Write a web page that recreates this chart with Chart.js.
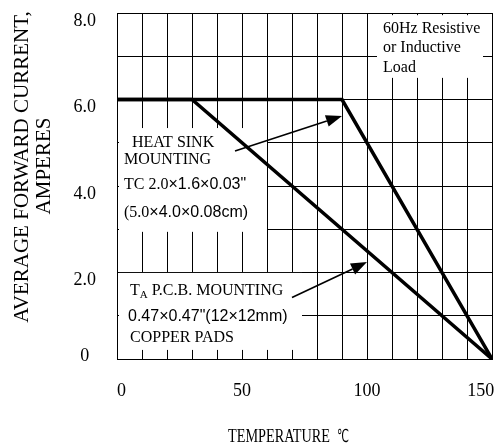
<!DOCTYPE html>
<html><head><meta charset="utf-8">
<script src="https://cdn.jsdelivr.net/npm/chart.js@4.4.0/dist/chart.umd.min.js"></script>
<style>html,body{margin:0;padding:0;background:#fff;}#wrap{width:501px;height:444px;}</style>
</head><body><div id="wrap"><canvas id="c" width="501" height="444"></canvas></div>
<script>
// ---- data ----
const heatSinkTemp = [0, 90, 150];
const heatSinkCurrent = [6.0, 6.0, 0];
const pcbTemp = [0, 30, 150];
const pcbCurrent = [6.0, 6.0, 0];
const xTickLabels = [0, 50, 100, 150];
const yTickLabels = [0, 2, 4, 6, 8];
const xAxisTitle = ['TEMPERATURE', '\u2103'];
const yAxisTitle = ['AVERAGE FORWARD CURRENT,', 'AMPERES'];
const loadNote = ['60Hz Resistive', 'or Inductive', 'Load'];
const heatSinkNote = [
  [['HEAT SINK', 'serif']],
  [['MOUNTING', 'serif']],
  [['TC 2.0', 'serif'], ['\u00d71.6\u00d70.03"', 'sans']],
  [['(5.0', 'serif'], ['\u00d74.0\u00d70.08cm)', 'sans']]
];
const pcbNote = [
  [['T', 'serif'], ['A', 'sub'], [' P.C.B. MOUNTING', 'serif']],
  [['0.47\u00d70.47"(12\u00d712mm)', 'sans']],
  [['COPPER PADS', 'serif']]
];

const SERIF = '"Liberation Serif", "Times New Roman", serif';
const SANS = '"Liberation Sans", Arial, sans-serif';
const fonts = { serif: '16px ' + SERIF, sans: '16px ' + SANS, sub: '11px ' + SERIF };

function toPx(chart, x, y) {
  return [chart.scales.x.getPixelForValue(x), chart.scales.y.getPixelForValue(y)];
}

const notesPlugin = {
  id: 'notes',
  beforeDatasetsDraw(chart, args, opts) {
    const ctx = chart.ctx;
    ctx.save();
    ctx.fillStyle = '#fff';
    opts.boxes.forEach(b => {
      const [x1, y1] = toPx(chart, b.x1, b.y1);
      const [x2, y2] = toPx(chart, b.x2, b.y2);
      ctx.fillRect(x1, y1, x2 - x1, y2 - y1);
    });
    ctx.restore();
  },
  afterDatasetsDraw(chart, args, opts) {
    const ctx = chart.ctx;
    ctx.save();
    ctx.fillStyle = '#000';
    ctx.textBaseline = 'alphabetic';
    ctx.textAlign = 'left';
    opts.texts.forEach(t => {
      const [bx, by] = toPx(chart, t.bx, t.by);
      t.lines.forEach((line, i) => {
        let x = bx + t.offsets[i][0];
        const y = by + t.offsets[i][1];
        const segs = Array.isArray(line) ? line : [[line, 'serif']];
        segs.forEach(([txt, f]) => {
          ctx.font = fonts[f];
          ctx.fillText(txt, x, f === 'sub' ? y + 3 : y);
          x += ctx.measureText(txt).width;
        });
      });
    });
    ctx.strokeStyle = '#000';
    ctx.lineWidth = 1.6;
    opts.arrows.forEach(a => {
      const [x1, y1] = toPx(chart, a.from[0], a.from[1]);
      const [x2, y2] = toPx(chart, a.to[0], a.to[1]);
      const ang = Math.atan2(y2 - y1, x2 - x1);
      const L = 16, W = 6;
      const bx = x2 - L * Math.cos(ang), by = y2 - L * Math.sin(ang);
      ctx.beginPath();
      ctx.moveTo(x1, y1);
      ctx.lineTo(bx, by);
      ctx.stroke();
      ctx.beginPath();
      ctx.moveTo(x2, y2);
      ctx.lineTo(bx + W * Math.sin(ang), by - W * Math.cos(ang));
      ctx.lineTo(bx - W * Math.sin(ang), by + W * Math.cos(ang));
      ctx.closePath();
      ctx.fill();
    });
    ctx.restore();
  },
  afterDraw(chart) {
    const ctx = chart.ctx;
    ctx.save();
    ctx.fillStyle = '#000';
    ctx.font = '21px ' + SERIF;
    ctx.textAlign = 'center';
    ctx.textBaseline = 'alphabetic';
    [[28, 167], [49.5, 166]].forEach((p, i) => {
      ctx.save();
      ctx.translate(p[0], p[1]);
      ctx.rotate(-Math.PI / 2);
      ctx.fillText(yAxisTitle[i], 0, 0);
      ctx.restore();
    });
    ctx.textAlign = 'left';
    ctx.font = '19px ' + SERIF;
    const w = ctx.measureText(xAxisTitle[0]).width;
    ctx.save();
    ctx.translate(228, 442);
    ctx.scale(102 / w, 1);
    ctx.fillText(xAxisTitle[0], 0, 0);
    ctx.restore();
    ctx.font = '18px "DejaVu Sans", sans-serif';
    const w2 = ctx.measureText(xAxisTitle[1]).width;
    ctx.save();
    ctx.translate(337, 442);
    ctx.scale(12 / w2, 1);
    ctx.fillText(xAxisTitle[1], 0, 0);
    ctx.restore();
    ctx.restore();
  }
};

const lineStyle = { borderColor: '#000', borderWidth: 3.5, pointRadius: 0, tension: 0, fill: false };

function xLabel(v) {
  if (!xTickLabels.includes(v)) return '';
  // nudge end labels like the original print (0 slightly right, 150 kept inside the page)
  if (v === 0) return '  0';
  if (v === 150) return '150     ';
  return String(v);
}

new Chart(document.getElementById('c'), {
  type: 'line',
  data: {
    datasets: [
      Object.assign({ label: 'Heat sink mounting', data: heatSinkTemp.map((t, i) => ({ x: t, y: heatSinkCurrent[i] })) }, lineStyle),
      Object.assign({ label: 'P.C.B. mounting', data: pcbTemp.map((t, i) => ({ x: t, y: pcbCurrent[i] })) }, lineStyle)
    ]
  },
  options: {
    responsive: false,
    animation: false,
    devicePixelRatio: 1,
    layout: { padding: { top: 13, right: 9, left: 0, bottom: 0 } },
    plugins: {
      legend: { display: false },
      tooltip: { enabled: false },
      notes: {
        boxes: [
          { x1: 104, x2: 146.4, y1: 7.95, y2: 6.5 },
          { x1: 0.8, x2: 60, y1: 5.34, y2: 2.94 },
          { x1: 0.8, x2: 74, y1: 1.99, y2: 0.21 }
        ],
        texts: [
          { bx: 104, by: 7.95, lines: loadNote, offsets: [[6, 18], [6, 37], [6, 57]] },
          { bx: 0.8, by: 5.34, lines: heatSinkNote, offsets: [[13, 19], [5, 36], [5, 61], [5, 89]] },
          { bx: 0.8, by: 1.99, lines: pcbNote, offsets: [[11, 22], [9, 48], [11, 69]] }
        ],
        arrows: [
          { from: [47.2, 4.81], to: [90, 5.62] },
          { from: [70, 1.42], to: [100, 2.24] }
        ]
      }
    },
    scales: {
      x: {
        type: 'linear', min: 0, max: 150,
        afterFit(s) { s.height = 85; s.paddingLeft = 0; s.paddingRight = 0; },
        grid: { color: '#000', lineWidth: 1, drawTicks: false },
        border: { color: '#000', width: 1 },
        ticks: {
          stepSize: 10, padding: 21, color: '#000', autoSkip: false, maxRotation: 0, minRotation: 0,
          font: { family: SERIF, size: 18 },
          callback: xLabel
        }
      },
      y: {
        type: 'linear', min: 0, max: 8,
        afterFit(s) { s.width = 117; s.paddingTop = 0; s.paddingBottom = 0; },
        grid: { color: '#000', lineWidth: 1, drawTicks: false },
        border: { color: '#000', width: 1 },
        ticks: {
          stepSize: 1, padding: 21, color: '#000', crossAlign: 'center', labelOffset: 8, autoSkip: false,
          font: { family: SERIF, size: 18 },
          callback: v => !yTickLabels.includes(v) ? '' : (v === 0 ? ['0', ''] : v.toFixed(1))
        }
      }
    }
  },
  plugins: [notesPlugin]
});
</script></body></html>
